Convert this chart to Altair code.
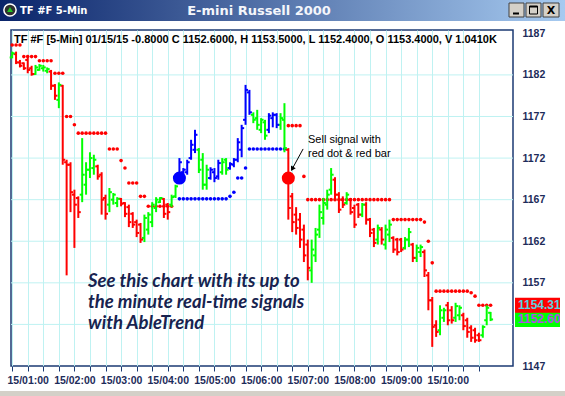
import altair as alt
import pandas as pd

# 5-minute bars of the E-mini Russell 2000 (TF #F), first bar at 00:40
FIRST_BAR_MIN = 40
BAR_STEP_MIN = 5

highs = [1184.8, 1184.8, 1183.8, 1183.5, 1184.4, 1183.1, 1183.2, 1183.3, 1183.2, 1182.9,
         1182.6, 1180.9, 1181.1, 1180.8, 1171.8, 1171.5, 1168.2, 1167.4, 1174.4, 1171.5,
         1172.7, 1172.4, 1171.2, 1170.3, 1167.6, 1168.4, 1167.8, 1167.3, 1167.2, 1166.7,
         1166.4, 1165.5, 1164.6, 1164.2, 1165.2, 1165.5, 1166.7, 1167.3, 1167.3, 1167.2,
         1166.6, 1167.6, 1168.8, 1172.0, 1170.8, 1171.8, 1174.2, 1175.4, 1173.2, 1172.6,
         1171.2, 1170.9, 1170.8, 1171.8, 1172.0, 1172.0, 1171.5, 1172.0, 1174.4, 1176.0,
         1180.8, 1180.2, 1177.5, 1177.8, 1176.8, 1176.6, 1177.4, 1177.5, 1177.4, 1177.4,
         1178.6, 1173.2, 1167.8, 1166.1, 1165.4, 1164.0, 1162.2, 1162.2, 1163.6, 1166.4,
         1167.2, 1168.2, 1170.8, 1169.7, 1167.9, 1167.4, 1167.9, 1167.2, 1166.4, 1166.6,
         1166.6, 1166.7, 1164.8, 1163.6, 1164.0, 1163.7, 1164.0, 1164.6, 1162.6, 1162.4,
         1162.4, 1162.5, 1163.6, 1161.8, 1161.6, 1161.6, 1161.0, 1158.3, 1155.3, 1152.5,
         1154.3, 1154.0, 1154.7, 1154.2, 1154.6, 1154.3, 1153.4, 1152.8, 1151.9, 1151.6,
         1151.0, 1151.9, 1154.3, 1153.5]
lows = [1184.0, 1183.3, 1182.9, 1182.6, 1182.2, 1181.9, 1182.0, 1182.5, 1182.4, 1182.2,
        1180.2, 1179.0, 1178.0, 1171.2, 1157.9, 1165.5, 1161.2, 1164.8, 1166.7, 1167.6,
        1169.6, 1170.0, 1169.4, 1165.2, 1164.6, 1165.5, 1166.4, 1166.1, 1166.2, 1164.9,
        1163.7, 1163.6, 1162.5, 1161.8, 1161.9, 1162.8, 1163.7, 1165.5, 1166.6, 1164.8,
        1164.6, 1166.1, 1167.2, 1169.4, 1169.7, 1170.0, 1171.8, 1172.6, 1170.2, 1168.2,
        1168.2, 1169.4, 1169.1, 1169.4, 1170.0, 1170.0, 1170.6, 1170.9, 1171.5, 1172.1,
        1176.0, 1177.2, 1176.2, 1175.4, 1175.0, 1174.2, 1175.0, 1175.7, 1175.6, 1175.4,
        1172.7, 1164.6, 1163.1, 1162.8, 1161.2, 1159.5, 1157.3, 1157.0, 1159.5, 1162.4,
        1164.0, 1165.8, 1167.6, 1167.0, 1165.4, 1166.0, 1166.4, 1165.2, 1163.6, 1164.8,
        1164.9, 1164.0, 1162.5, 1161.3, 1161.6, 1161.6, 1161.0, 1161.9, 1160.6, 1160.3,
        1160.7, 1161.0, 1161.3, 1159.5, 1159.5, 1160.1, 1157.7, 1153.7, 1149.3, 1150.5,
        1150.7, 1152.3, 1151.9, 1152.1, 1152.3, 1152.5, 1151.3, 1150.4, 1149.9, 1149.8,
        1149.9, 1150.4, 1151.9, 1152.4]
opens = [1184.1, 1184.5, 1183.5, 1183.4, 1183.8, 1182.8, 1182.1, 1182.6, 1182.8, 1182.5,
         1182.4, 1180.7, 1179.0, 1180.7, 1171.5, 1171.2, 1167.6, 1167.2, 1167.6, 1168.8,
         1170.6, 1170.8, 1171.0, 1170.0, 1167.2, 1166.4, 1167.0, 1166.6, 1167.1, 1166.6,
         1166.1, 1165.3, 1164.3, 1164.0, 1162.4, 1163.4, 1164.3, 1166.0, 1166.7, 1167.1,
         1166.4, 1166.4, 1167.4, 1169.6, 1170.3, 1170.3, 1172.0, 1173.0, 1173.0, 1171.8,
         1168.8, 1169.6, 1170.3, 1169.8, 1170.3, 1171.8, 1170.8, 1171.2, 1171.8, 1173.0,
         1176.6, 1179.9, 1177.2, 1176.8, 1175.4, 1176.3, 1175.4, 1176.8, 1177.2, 1176.0,
         1176.6, 1173.0, 1167.4, 1165.2, 1164.6, 1163.4, 1161.6, 1158.5, 1160.3, 1163.4,
         1164.8, 1166.4, 1168.2, 1169.4, 1167.6, 1167.0, 1166.6, 1167.0, 1166.0, 1166.4,
         1165.2, 1166.4, 1164.6, 1163.4, 1162.2, 1163.4, 1161.6, 1162.8, 1162.4, 1162.2,
         1162.2, 1161.2, 1162.2, 1161.6, 1160.0, 1160.7, 1160.7, 1157.9, 1154.9, 1151.9,
         1151.3, 1152.8, 1154.3, 1153.7, 1152.8, 1153.1, 1153.1, 1152.5, 1151.6, 1151.3,
         1150.7, 1150.7, 1152.5, 1153.4]
closes = [1184.6, 1183.5, 1183.1, 1182.8, 1182.6, 1182.1, 1182.9, 1183.1, 1182.9, 1182.7,
          1180.7, 1179.5, 1180.8, 1171.8, 1171.2, 1167.9, 1166.4, 1165.5, 1170.0, 1170.6,
          1172.0, 1171.8, 1169.8, 1167.0, 1165.3, 1167.9, 1167.6, 1167.1, 1166.5, 1165.3,
          1164.3, 1164.0, 1163.0, 1162.2, 1164.8, 1165.2, 1166.4, 1167.0, 1167.2, 1165.3,
          1165.5, 1167.3, 1168.6, 1171.5, 1170.6, 1171.5, 1173.6, 1174.8, 1170.6, 1168.8,
          1170.6, 1170.6, 1169.6, 1171.4, 1171.5, 1170.6, 1171.3, 1171.8, 1173.9, 1175.6,
          1180.2, 1177.5, 1176.6, 1176.0, 1176.6, 1174.7, 1177.1, 1177.2, 1176.0, 1176.8,
          1173.2, 1166.0, 1164.3, 1163.6, 1162.2, 1160.3, 1158.8, 1161.0, 1162.8, 1165.5,
          1166.6, 1167.6, 1170.0, 1167.6, 1165.8, 1166.4, 1167.6, 1165.5, 1164.0, 1165.2,
          1166.4, 1164.6, 1163.0, 1161.8, 1163.6, 1162.2, 1163.4, 1164.0, 1161.0, 1160.7,
          1161.0, 1162.2, 1163.1, 1160.0, 1161.2, 1161.3, 1158.5, 1154.9, 1151.7, 1151.1,
          1153.7, 1153.7, 1152.5, 1152.5, 1154.2, 1154.0, 1151.8, 1151.1, 1150.4, 1150.1,
          1150.1, 1151.7, 1154.0, 1152.6]
# AbleTrend bar colour: R = down trend, G = neutral, B = up trend
trend = list("GRRRRRGGGG" "RRGRRRRRGG" "GGRRRGGGRR" "RRRRGGGGGR" "RGGBBBBBGG"
             "GBBBGGBBBB" "BBGGGGBBBG" "GRRRRRRGGG" "GGGRRRGRRR" "GRRRGRGGRR"
             "RGGRGGRRRR" "GGRRGGRRRR" "RGGG")

# trailing stop dots: (first bar, last bar, price, side)
stop_runs = [(0, 2, 1185.6, "R"), (3, 6, 1184.2, "R"), (7, 10, 1183.7, "R"),
             (11, 13, 1182.2, "R"), (14, 15, 1177.0, "R"), (16, 16, 1176.0, "R"),
             (17, 24, 1175.0, "R"), (25, 27, 1173.1, "R"), (28, 28, 1171.7, "R"),
             (29, 29, 1170.8, "R"), (30, 32, 1169.0, "R"), (33, 34, 1167.4, "R"),
             (35, 41, 1166.2, "R"), (43, 55, 1167.1, "B"), (56, 56, 1167.4, "B"),
             (57, 57, 1167.9, "B"), (58, 59, 1169.6, "B"), (60, 60, 1170.8, "B"),
             (61, 70, 1173.1, "B"), (71, 74, 1175.9, "R"), (75, 75, 1169.8, "R"),
             (76, 97, 1167.0, "R"), (98, 105, 1164.6, "R"), (106, 106, 1164.3, "R"),
             (107, 107, 1162.0, "R"), (108, 108, 1159.4, "R"), (109, 117, 1156.0, "R"),
             (118, 118, 1155.8, "R"), (119, 119, 1155.4, "R"), (120, 123, 1154.31, "R")]

# buy / sell signal dots: (bar, price, side)
signals = [(43, 1169.6, "B"), (71, 1169.6, "R")]

# price tags on the right scale: (value, fill, text colour)
price_tags = [(1152.60, "#00ff00", "#b04ee6"), (1154.31, "#ff0000", "#5ad2e2")]

# tick marks every 20 minutes, labels on the hour
tick_minutes = list(range(40, 641, 20))
hour_labels = {60 * h: f"15/{h:02d}:00" for h in range(1, 11)}
# 1152 sits under the price tags, so the scale shows the others only
price_labels = [1147, 1157, 1162, 1167, 1172, 1177, 1182, 1187]
price_grid = list(range(1152, 1183, 5))

sell_arrow = [(414, 1173.1), (400, 1170.7)]  # tail, head (minutes, price)

info_line = ("TF #F [5-Min] 01/15/15  -0.8000 C 1152.6000, H 1153.5000, "
             "L 1152.4000, O 1153.4000, V 1.0410K")
promo_lines = ["See this chart with its up to", "the minute real-time signals",
               "with AbleTrend"]

TREND_COLORS = alt.Scale(domain=["R", "G", "B"], range=["#ff0000", "#00ff00", "#0000ff"])
NAVY = "#1d2c5a"
TICK_HALF = 3.2  # minutes of open/close tick length

def bar_time(i):
    return FIRST_BAR_MIN + BAR_STEP_MIN * i

bars = pd.DataFrame({
    "t": [bar_time(i) for i in range(len(highs))],
    "high": highs, "low": lows, "open": opens, "close": closes, "trend": trend,
})
stops = pd.DataFrame([
    {"t": bar_time(i), "price": p, "side": s}
    for a, b, p, s in stop_runs for i in range(a, b + 1)
])
sig = pd.DataFrame([{"t": bar_time(i), "price": p, "side": s} for i, p, s in signals])
tags = pd.DataFrame([{"v": v, "fill": f, "ink": c, "label": f"{v:.2f}"} for v, f, c in price_tags])
grid = pd.DataFrame({"price": price_grid})
arrow = pd.DataFrame([{"t": t, "price": p, "k": k} for k, (t, p) in enumerate(sell_arrow)])

xs = alt.Scale(domain=[38.5, 683.8], nice=False, zero=False)
ys = alt.Scale(domain=[1147, 1187.4], nice=False, zero=False)

label_expr = " : ".join(
    [f"datum.value == {m} ? '{s}'" for m, s in hour_labels.items()] + ["''"]
)
X_AX = alt.Axis(values=tick_minutes, labelExpr=label_expr, title=None, grid=True,
                gridColor="#bff2f2", gridWidth=1, domain=False, tickColor="#1b3a73",
                tickSize=5, labelPadding=4, labelFont="Liberation Sans",
                labelFontSize=10.5, labelFontWeight="bold", labelColor=NAVY,
                labelOverlap=False, labelFlush=False)
Y_AX = alt.Axis(orient="right", values=price_labels, format="d", title=None, grid=False,
                domain=False, ticks=False, labelPadding=9, labelFont="Liberation Sans",
                labelFontSize=10.5, labelFontWeight="bold", labelColor=NAVY,
                labelFlush=False)

def X(field):
    return alt.X(field, scale=xs, axis=X_AX)

def Y(field):
    return alt.Y(field, scale=ys, axis=Y_AX)

# horizontal price grid
grid_layer = alt.Chart(grid).mark_rule(color="#bff2f2", strokeWidth=1).encode(
    y=Y("price:Q"), x=alt.value(0), x2=alt.value(502),
)

stop_layer = alt.Chart(stops).mark_circle(size=13, opacity=1).encode(
    x=X("t:Q"), y=Y("price:Q"),
    color=alt.Color("side:N", scale=TREND_COLORS, legend=None),
)

base = alt.Chart(bars).encode(color=alt.Color("trend:N", scale=TREND_COLORS, legend=None))
hl = base.mark_rule(strokeWidth=2).encode(x=X("t:Q"), y=Y("low:Q"), y2="high:Q")
open_tick = base.transform_calculate(t0=f"datum.t - {TICK_HALF}").mark_rule(strokeWidth=2).encode(
    x=X("t0:Q"), x2="t:Q", y=Y("open:Q"),
)
close_tick = base.transform_calculate(t1=f"datum.t + {TICK_HALF}").mark_rule(strokeWidth=2).encode(
    x=X("t:Q"), x2="t1:Q", y=Y("close:Q"),
)

signal_layer = alt.Chart(sig).mark_circle(size=170, opacity=1).encode(
    x=X("t:Q"), y=Y("price:Q"),
    color=alt.Color("side:N", scale=TREND_COLORS, legend=None),
)

arrow_line = alt.Chart(arrow).mark_line(color="black", strokeWidth=1).encode(
    x=X("t:Q"), y=Y("price:Q"), order="k:O",
)
arrow_head = alt.Chart(arrow[arrow.k == 1]).mark_point(
    shape="triangle-up", angle=209, size=30, filled=True, color="black", opacity=1
).encode(x=X("t:Q"), y=Y("price:Q"))

one = alt.Data(values=[{"k": 0}])
sell_note = alt.layer(*[
    alt.Chart(one).mark_text(text=s, align="left", baseline="middle", font="Liberation Sans",
                             fontSize=11, color="black").encode(x=alt.value(297), y=alt.value(yy))
    for s, yy in [("Sell signal with", 110), ("red dot & red bar", 124)]
])

promo = alt.layer(*[
    alt.Chart(one).mark_text(text=s, align="left", baseline="middle", font="Lato",
                             fontSize=18.5, fontStyle="italic", fontWeight="bold",
                             color="#17234f").encode(x=alt.value(77), y=alt.value(yy))
    for s, yy in zip(promo_lines, [251, 272, 293])
])

info = alt.Chart(one).mark_text(
    text=info_line, align="left", baseline="middle", font="Liberation Sans", fontSize=11,
    fontWeight="bold", color="black"
).encode(x=alt.value(3), y=alt.value(10))

# price tags on the right-hand scale
tag_box = alt.Chart(tags).transform_calculate(
    top="datum.v + 0.9", bot="datum.v - 0.9"
).mark_rect().encode(
    x=alt.value(504), x2=alt.value(549),
    y=Y("top:Q"), y2="bot:Q",
    color=alt.Color("fill:N", scale=None, legend=None),
)
tag_text = alt.Chart(tags).mark_text(
    align="left", baseline="middle", font="Liberation Sans", fontSize=12, fontWeight="bold"
).encode(
    x=alt.value(507), y=Y("v:Q"), text="label:N",
    color=alt.Color("ink:N", scale=None, legend=None),
)
right_edge = alt.Chart(one).mark_rect(color="white").encode(
    x=alt.value(549), x2=alt.value(554), y=alt.value(-9), y2=alt.value(366))

# window chrome: caption bar, icon, buttons, bottom scroll strip
caption = alt.Chart(one).mark_rect(
    color=alt.LinearGradient(gradient="linear", x1=0, x2=1, y1=0, y2=0,
                             stops=[alt.GradientStop(color="#0a246a", offset=0),
                                    alt.GradientStop(color="#a6caf0", offset=1)])
).encode(x=alt.value(-11), x2=alt.value(554), y=alt.value(-30), y2=alt.value(-9))
icon = alt.Chart(one).mark_circle(size=150, color="#303030", stroke="white", strokeWidth=1.5,
                                  opacity=1).encode(x=alt.value(-1), y=alt.value(-20))
icon_tri = alt.Chart(one).mark_point(shape="triangle-up", size=35, filled=True,
                                     color="#22c422", opacity=1).encode(
    x=alt.value(-1), y=alt.value(-20.5))
cap_left = alt.Chart(one).mark_text(text="TF #F 5-Min", align="left", baseline="middle",
                                    font="DejaVu Sans", fontSize=10, fontWeight="bold",
                                    color="white").encode(x=alt.value(9), y=alt.value(-19.5))
cap_mid = alt.Chart(one).mark_text(text="E-mini Russell 2000", align="center",
                                   baseline="middle", font="DejaVu Sans", fontSize=13,
                                   fontWeight="bold", color="#f4f6fb").encode(
    x=alt.value(248), y=alt.value(-19))
btn_boxes = alt.layer(*[
    alt.Chart(one).mark_rect(color="#d4d0c8", stroke="#404040", strokeWidth=1).encode(
        x=alt.value(a), x2=alt.value(b), y=alt.value(-27), y2=alt.value(-13))
    for a, b in [(498, 513), (515, 530), (532, 548)]
])
btn_min = alt.Chart(one).mark_rect(color="black").encode(
    x=alt.value(502), x2=alt.value(508), y=alt.value(-17.5), y2=alt.value(-15.5))
btn_max = alt.Chart(one).mark_rect(fill="#d4d0c8", stroke="black", strokeWidth=1).encode(
    x=alt.value(518.5), x2=alt.value(526.5), y=alt.value(-24), y2=alt.value(-16))
btn_max_top = alt.Chart(one).mark_rect(color="black").encode(
    x=alt.value(518.5), x2=alt.value(526.5), y=alt.value(-24), y2=alt.value(-22.5))
btn_close = alt.Chart(one).mark_text(text="X", align="center", baseline="middle",
                                     font="DejaVu Sans", fontSize=11, fontWeight="bold",
                                     color="black").encode(x=alt.value(540), y=alt.value(-19.5))
scroll = alt.Chart(one).mark_rect(color="#d4d0c8").encode(
    x=alt.value(-11), x2=alt.value(554), y=alt.value(361), y2=alt.value(366))

chart = alt.layer(
    grid_layer, stop_layer, hl, open_tick, close_tick, signal_layer,
    arrow_line, arrow_head, sell_note, promo, info, tag_box, tag_text, right_edge,
    caption, icon, icon_tri, cap_left, cap_mid, btn_boxes, btn_min, btn_max, btn_max_top,
    btn_close, scroll,
).properties(
    width=502, height=336, autosize="none", background="white",
    padding={"left": 11, "top": 30, "right": 52, "bottom": 30},
).configure_view(
    stroke="#1b3a73", strokeWidth=1.5
)

chart.save("out.html", embed_options={"renderer": "svg", "actions": False})
